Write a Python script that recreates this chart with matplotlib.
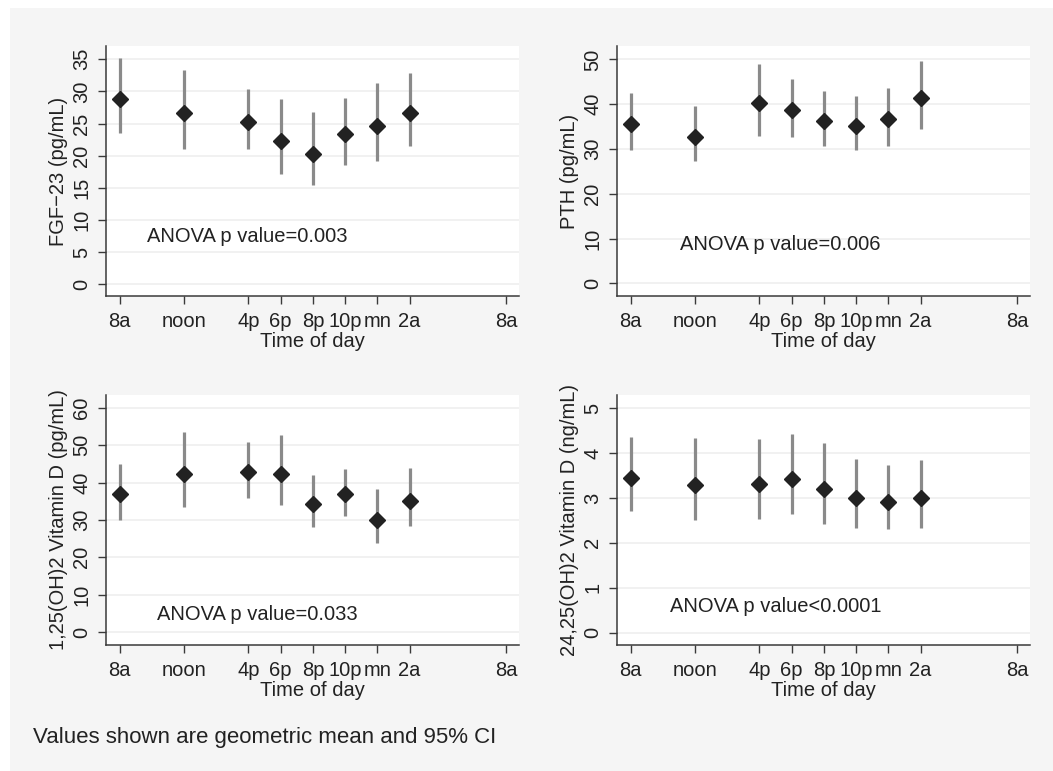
import matplotlib
matplotlib.use("Agg")
import matplotlib.pyplot as plt
from matplotlib.patches import Rectangle

plt.rcParams['font.family'] = ['Liberation Sans', 'DejaVu Sans']

# Time positions (hours after 8 am) and tick labels
hours = [0, 4, 8, 10, 12, 14, 16, 18]
tick_hours = [0, 4, 8, 10, 12, 14, 16, 18, 24]
tick_labels = ['8a', 'noon', '4p', '6p', '8p', '10p', 'mn', '2a', '8a']

# FGF-23 (pg/mL)
fgf_mean = [28.8, 26.6, 25.2, 22.3, 20.3, 23.3, 24.6, 26.7]
fgf_hi = [35.2, 33.3, 30.3, 28.8, 26.8, 28.9, 31.3, 32.8]
fgf_lo = [23.5, 21.1, 21.0, 17.2, 15.4, 18.6, 19.2, 21.5]

# PTH (pg/mL)
pth_mean = [35.6, 32.8, 40.2, 38.7, 36.3, 35.2, 36.6, 41.3]
pth_hi = [42.6, 39.5, 48.9, 45.7, 43.0, 41.8, 43.7, 49.6]
pth_lo = [29.8, 27.3, 33.0, 32.7, 30.7, 29.8, 30.7, 34.4]

# 1,25(OH)2 Vitamin D (pg/mL)
vd125_mean = [37.0, 42.3, 42.8, 42.2, 34.3, 36.9, 30.1, 35.2]
vd125_hi = [44.9, 53.5, 51.0, 52.7, 42.0, 43.7, 38.4, 44.0]
vd125_lo = [30.1, 33.5, 35.9, 34.0, 28.1, 31.0, 23.8, 28.4]

# 24,25(OH)2 Vitamin D (ng/mL)
vd2425_mean = [3.45, 3.29, 3.32, 3.43, 3.19, 3.00, 2.91, 3.00]
vd2425_hi = [4.36, 4.33, 4.31, 4.42, 4.22, 3.86, 3.73, 3.84]
vd2425_lo = [2.72, 2.50, 2.54, 2.65, 2.42, 2.34, 2.30, 2.34]

panels = [
    dict(mean=fgf_mean, lo=fgf_lo, hi=fgf_hi, ylabel='FGF\u221223 (pg/mL)',
         yticks=[0, 5, 10, 15, 20, 25, 30, 35], ylim=(-1.8, 37.05),
         note='ANOVA p value=0.003', note_xy=(0.099, 0.2375)),
    dict(mean=pth_mean, lo=pth_lo, hi=pth_hi, ylabel='PTH (pg/mL)',
         yticks=[0, 10, 20, 30, 40, 50], ylim=(-2.8, 53.0),
         note='ANOVA p value=0.006', note_xy=(0.153, 0.207)),
    dict(mean=vd125_mean, lo=vd125_lo, hi=vd125_hi, ylabel='1,25(OH)2 Vitamin D (pg/mL)',
         yticks=[0, 10, 20, 30, 40, 50, 60], ylim=(-3.5, 63.5),
         note='ANOVA p value=0.033', note_xy=(0.124, 0.124)),
    dict(mean=vd2425_mean, lo=vd2425_lo, hi=vd2425_hi, ylabel='24,25(OH)2 Vitamin D (ng/mL)',
         yticks=[0, 1, 2, 3, 4, 5], ylim=(-0.27, 5.29),
         note='ANOVA p value<0.0001', note_xy=(0.128, 0.154)),
]

W, H = 1053, 771
fig = plt.figure(figsize=(W / 100, H / 100), dpi=100, facecolor='white')
fig.patches.append(Rectangle((10 / W, 0), 1, 1 - 8 / H, transform=fig.transFigure,
                             facecolor='#f5f5f5', edgecolor='none', zorder=-10))

lefts = [106, 617]
tops = [46, 395]
aw, ah = 413, 250
positions = []
for t in tops:
    for l in lefts:
        positions.append([l / W, 1 - (t + ah) / H, aw / W, ah / H])

spine_col = '#3a3a3a'
txt_col = '#222222'
fs = 14.5
for p, pos in zip(panels, positions):
    ax = fig.add_axes(pos)
    ax.set_facecolor('white')
    for s in ['top', 'right']:
        ax.spines[s].set_visible(False)
    for s in ['left', 'bottom']:
        ax.spines[s].set_color(spine_col)
        ax.spines[s].set_linewidth(1.1)
    ax.set_yticks(p['yticks'])
    ax.grid(axis='y', color='#efefef', linewidth=1.2, zorder=0)
    ax.set_axisbelow(True)
    ax.vlines(hours, p['lo'], p['hi'], color='#8a8a8a', linewidth=2.3, zorder=2)
    ax.plot(hours, p['mean'], linestyle='none', marker='D', markersize=8.2,
            color='#222222', zorder=3)
    ax.set_xlim(-0.85, 24.8)
    ax.set_ylim(*p['ylim'])
    ax.set_xticks(tick_hours)
    ax.set_xticklabels(tick_labels, fontsize=fs, color=txt_col)
    ax.tick_params(axis='both', length=5.5, width=1.0, color=spine_col)
    ax.tick_params(axis='x', pad=6)
    ax.tick_params(axis='y', pad=5)
    for lbl in ax.get_yticklabels():
        lbl.set_rotation(90)
        lbl.set_verticalalignment('center')
        lbl.set_fontsize(fs)
        lbl.set_color(txt_col)
    ax.set_xlabel('Time of day', fontsize=fs, color=txt_col, labelpad=1)
    ax.set_ylabel(p['ylabel'], fontsize=fs, color=txt_col, labelpad=3)
    ax.text(p['note_xy'][0], p['note_xy'][1], p['note'], transform=ax.transAxes,
            fontsize=fs, color=txt_col, ha='left', va='center')

fig.text(33 / W, 1 - 738 / H, 'Values shown are geometric mean and 95% CI',
         fontsize=16, color=txt_col, ha='left', va='center')

fig.savefig('out.png', dpi=100, facecolor=fig.get_facecolor())
